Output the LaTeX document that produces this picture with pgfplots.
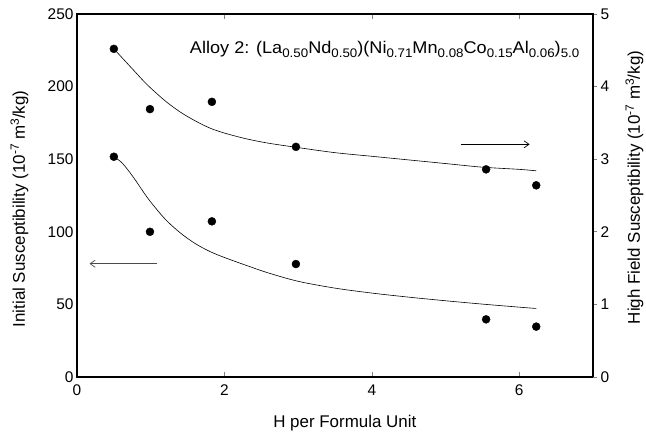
\documentclass[border=0pt]{standalone}
\usepackage{fontspec}
\setmainfont{Liberation Sans}
\usepackage{pgfplots}
\pgfplotsset{compat=1.18}
\usetikzlibrary{arrows.meta}
\newcommand\sub[1]{\raisebox{-4bp}{\fontsize{12.5}{14}\selectfont #1}}
\newcommand\sups[1]{\raisebox{6bp}{\fontsize{12}{14}\selectfont #1}}
\begin{document}
\begin{tikzpicture}
\path[use as bounding box] (0,0) rectangle (646bp,440bp);
\begin{axis}[
  name=main, at={(77bp,63bp)}, anchor=south west,
  scale only axis, width=516bp, height=363bp,
  xmin=0, xmax=7, ymin=0, ymax=250,
  xtick={0,2,4,6}, ytick={0,50,100,150,200,250},
  tick align=inside, major tick length=5bp,
  ytick style={draw=none},
  xtick style={line width=0.6bp},
  axis line style={line width=1.3bp},
  /pgf/number format/assume math mode=true,
  tick label style={font=\fontsize{15.5}{17}\selectfont},
  xticklabel style={yshift=-4bp},
  label style={font=\fontsize{17}{20}\selectfont},
  xlabel={H per Formula Unit},
  xlabel style={at={(axis description cs:0.519,0)}, anchor=base, yshift=-50bp},
  ylabel={Initial Susceptibility (10\sups{-7} m\sups{3}/kg)},
  ylabel style={at={(axis description cs:-0.1008,0.463)}, anchor=base},
]
\addplot[only marks, mark=*, mark size=4bp, black] coordinates {
  (0.50,151.7) (0.99,100.0) (1.83,107.2) (2.97,77.8) (5.55,39.7) (6.23,34.7)
};
\addplot[smooth, tension=0.5, black, line width=0.6bp] coordinates {
  (0.50,151.7) (0.6,148) (0.7,142) (0.8,135) (0.9,127.5) (1.0,120.5)
  (1.2,108.5) (1.4,99.3) (1.6,92) (1.8,86.5) (2.0,82.3) (2.3,76.8)
  (2.6,71.6) (3.0,65.9) (3.5,61.2) (4.0,57.8) (4.5,55) (5.0,52.5)
  (5.5,50.2) (6.0,48.1) (6.23,47.2)
};
\draw[black!70, line width=0.7bp, -{Straight Barb[length=5bp,width=7bp]}] (axis cs:1.09,78) -- (axis cs:0.17,78);
\node[anchor=base west, inner sep=0, xscale=1.07, font=\fontsize{17}{19}\selectfont] at (axis cs:1.53,222.9)
  {Alloy 2: (La\sub{0.50}Nd\sub{0.50})(Ni\sub{0.71}Mn\sub{0.08}Co\sub{0.15}Al\sub{0.06})\sub{5.0}};
\end{axis}
\begin{axis}[
  at={(77bp,63bp)}, anchor=south west,
  scale only axis, width=516bp, height=363bp,
  xmin=0, xmax=7, ymin=0, ymax=5,
  axis x line=none, axis y line*=right,
  ytick={0,1,2,3,4,5},
  tick align=outside, major tick length=4bp,
  ytick style={line width=0.6bp},
  axis line style={line width=1.3bp},
  /pgf/number format/assume math mode=true,
  tick label style={font=\fontsize{15.5}{17}\selectfont},
  label style={font=\fontsize{17}{20}\selectfont},
  ylabel={High Field Susceptibility (10\sups{-7} m\sups{3}/kg)},
  ylabel style={at={(axis description cs:1.091,0.522)}, anchor=base},
]
\addplot[only marks, mark=*, mark size=4bp, black] coordinates {
  (0.50,4.52) (0.99,3.69) (1.83,3.79) (2.97,3.17) (5.55,2.86) (6.23,2.64)
};
\addplot[smooth, tension=0.5, black, line width=0.6bp] coordinates {
  (0.50,4.52) (0.6,4.41) (0.7,4.30) (0.8,4.19) (0.9,4.08) (1.0,3.98)
  (1.2,3.80) (1.4,3.65) (1.6,3.53) (1.8,3.43) (2.0,3.36) (2.3,3.28)
  (2.6,3.22) (3.0,3.16) (3.5,3.09) (4.0,3.04) (4.5,2.99) (5.0,2.94)
  (5.5,2.89) (6.0,2.86) (6.23,2.84)
};
\draw[black, line width=0.7bp, -{Straight Barb[length=5bp,width=7bp]}] (axis cs:5.21,3.205) -- (axis cs:6.14,3.205);
\end{axis}
\end{tikzpicture}
\end{document}
